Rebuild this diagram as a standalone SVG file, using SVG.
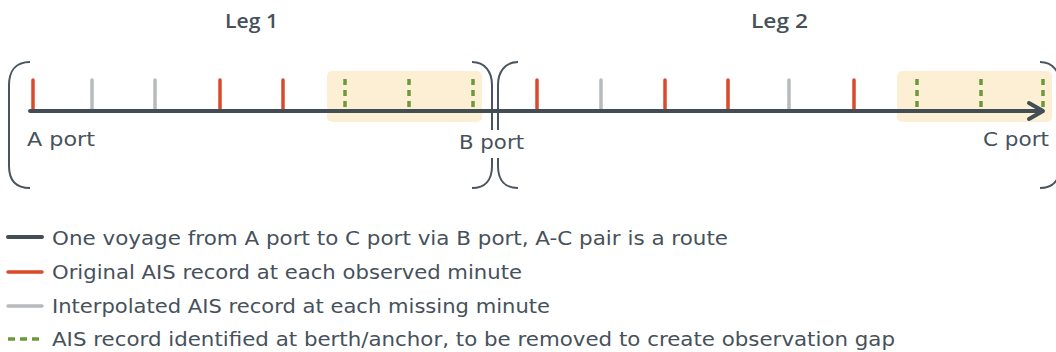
<svg xmlns="http://www.w3.org/2000/svg" width="1056" height="352" viewBox="0 0 1056 352">
<style>
.lbl{font-family:"DejaVu Sans","Open Sans",sans-serif;fill:#46515b;font-size:19px}
.leg{font-family:"Open Sans","DejaVu Sans",sans-serif;font-weight:600;font-size:20.5px}
.brk{fill:none;stroke:#4a5560;stroke-width:2}
.main{stroke:#434d56;stroke-width:4;fill:none;stroke-linecap:round;stroke-linejoin:round}
.red{stroke:#d84a2b;stroke-width:3.5;stroke-linecap:round}
.gray{stroke:#b7bbbd;stroke-width:3.5;stroke-linecap:round}
.green{stroke:#6b9a3a;stroke-width:3.5;stroke-dasharray:6 5}
.hl{fill:#fdefd3}
</style>
<g id="highlights">
<rect class="hl" x="327" y="71" width="155" height="51" rx="5"/>
<rect class="hl" x="897" y="71" width="155" height="51" rx="5"/>
</g>
<g id="brackets">
<path class="brk" d="M30,62 C15,62 9,72 9,85 L9,166 C9,180 15,188 30,188"/>
<path class="brk" d="M472,62 C485,62 492,72 492,85 L492,130 M492,158 L492,166 C492,180 485,188 472,188"/>
<path class="brk" d="M518,62 C505,62 498,72 498,85 L498,130 M498,158 L498,166 C498,180 505,188 518,188"/>
<path class="brk" d="M1040,62 C1053,62 1060,72 1060,85 L1060,166 C1060,180 1053,188 1040,188"/>
</g>
<g id="ticks">
<line class="red" x1="33" y1="80" x2="33" y2="110"/>
<line class="gray" x1="92" y1="80" x2="92" y2="110"/>
<line class="gray" x1="155" y1="80" x2="155" y2="110"/>
<line class="red" x1="220" y1="80" x2="220" y2="110"/>
<line class="red" x1="283" y1="80" x2="283" y2="110"/>
<line class="green" x1="345" y1="79" x2="345" y2="111"/>
<line class="green" x1="409" y1="79" x2="409" y2="111"/>
<line class="green" x1="473" y1="79" x2="473" y2="111"/>
<line class="red" x1="537" y1="80" x2="537" y2="110"/>
<line class="gray" x1="601" y1="80" x2="601" y2="110"/>
<line class="red" x1="665" y1="80" x2="665" y2="110"/>
<line class="red" x1="728" y1="80" x2="728" y2="110"/>
<line class="gray" x1="789" y1="80" x2="789" y2="110"/>
<line class="red" x1="854" y1="80" x2="854" y2="110"/>
<line class="green" x1="917" y1="79" x2="917" y2="111"/>
<line class="green" x1="981" y1="79" x2="981" y2="111"/>
<line class="green" x1="1043" y1="79" x2="1043" y2="111"/>
</g>
<g id="connectors">
<path class="main" d="M30,111 L1042,111"/>
<path class="main" d="M1029,103 L1043,111 L1029,119"/>
</g>
<g id="labels">
<text class="leg" fill="#46515b" x="225" y="28" textLength="53" lengthAdjust="spacingAndGlyphs">Leg 1</text>
<text class="leg" fill="#46515b" x="751" y="28" textLength="57" lengthAdjust="spacingAndGlyphs">Leg 2</text>
<text class="lbl" x="27" y="146" textLength="68" lengthAdjust="spacingAndGlyphs">A port</text>
<text class="lbl" x="459" y="149" textLength="65" lengthAdjust="spacingAndGlyphs">B port</text>
<text class="lbl" x="983" y="146" textLength="66" lengthAdjust="spacingAndGlyphs">C port</text>
</g>
<g id="legend">
<line class="main" x1="8" y1="237" x2="42" y2="237" stroke-width="3.5"/>
<line class="red" x1="8" y1="272" x2="42" y2="272"/>
<line class="gray" x1="8" y1="306" x2="42" y2="306"/>
<line class="green" x1="8" y1="339" x2="43" y2="339" style="stroke-dasharray:7 5"/>
<text class="lbl" x="52" y="245" textLength="676" lengthAdjust="spacingAndGlyphs">One voyage from A port to C port via B port, A-C pair is a route</text>
<text class="lbl" x="52" y="279" textLength="470" lengthAdjust="spacingAndGlyphs">Original AIS record at each observed minute</text>
<text class="lbl" x="52" y="313" textLength="498" lengthAdjust="spacingAndGlyphs">Interpolated AIS record at each missing minute</text>
<text class="lbl" x="52" y="346" textLength="843" lengthAdjust="spacingAndGlyphs">AIS record identified at berth/anchor, to be removed to create observation gap</text>
</g>
</svg>
